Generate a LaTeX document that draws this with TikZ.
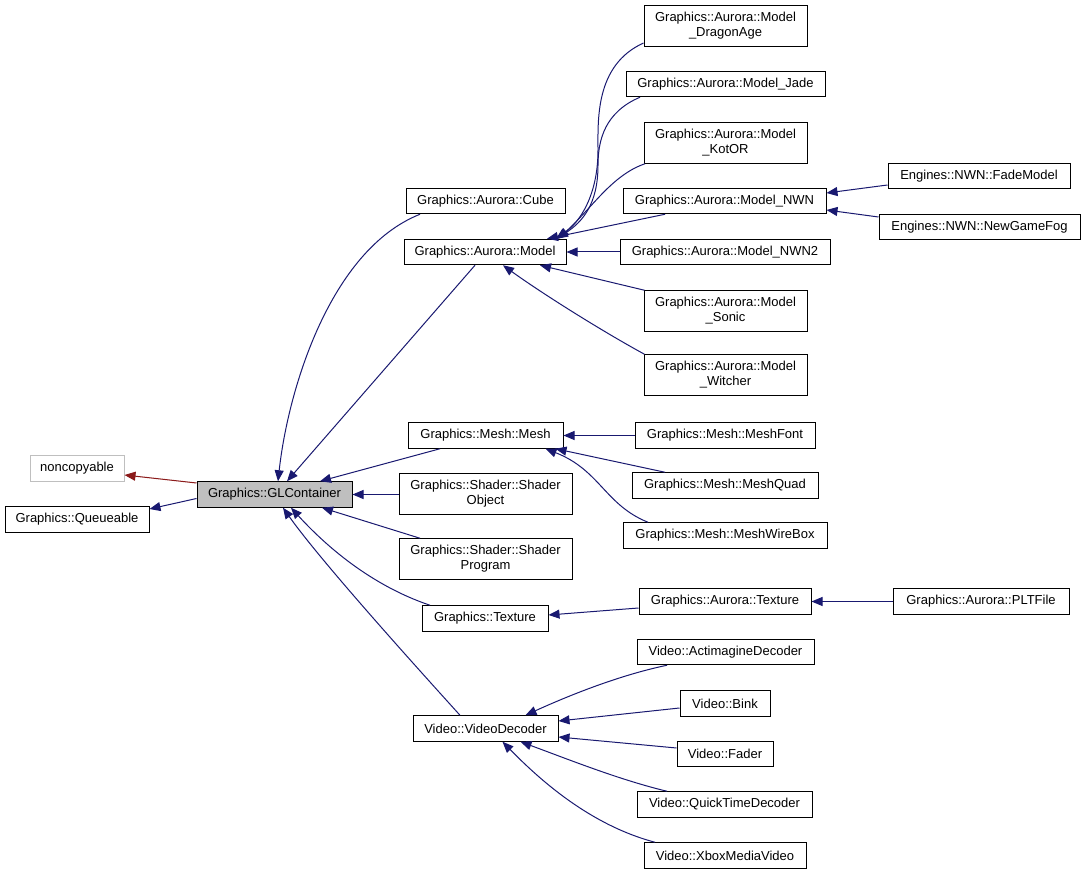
\documentclass[tikz,border=0pt]{standalone}
\usepackage{fontspec}
\setmainfont{Liberation Sans}
\usetikzlibrary{arrows.meta}
\definecolor{navy}{HTML}{191970}
\definecolor{dred}{HTML}{8B1A1A}
\definecolor{gfill}{HTML}{BFBFBF}
\begin{document}
\begin{tikzpicture}[x=1pt,y=-1pt,
  box/.style={draw=black, line width=1pt, inner sep=0pt, align=center, font=\fontsize{13}{15}\selectfont, minimum height=25.5pt},
  tall/.style={minimum height=40.5pt},
  arr/.style={draw=navy, line width=1pt, -{Triangle[length=11pt,width=9pt]}},
  redarr/.style={draw=dred, line width=1pt, -{Triangle[length=11pt,width=9pt]}}]
\useasboundingbox (0,0) rectangle (1087,874);
% nodes
\node[box, draw=gfill, minimum width=94pt] (nc) at (77,468.5) {noncopyable};
\node[box, fill=gfill, minimum width=155pt] (gl) at (274.5,494.5) {Graphics::GLContainer};
\node[box, minimum width=144pt] (q) at (77,519.5) {Graphics::Queueable};
\node[box, tall, minimum width=163pt] (da) at (725.5,26) {Graphics::Aurora::Model\\\_DragonAge};
\node[box, minimum width=199pt] (jade) at (725.5,84) {Graphics::Aurora::Model\_Jade};
\node[box, tall, minimum width=163pt] (kotor) at (725.5,143) {Graphics::Aurora::Model\\\_KotOR};
\node[box, minimum width=159pt] (cube) at (485.5,201) {Graphics::Aurora::Cube};
\node[box, minimum width=203pt] (nwn) at (724.5,201) {Graphics::Aurora::Model\_NWN};
\node[box, minimum width=182pt] (fade) at (979,176) {Engines::NWN::FadeModel};
\node[box, minimum width=201pt] (fog) at (979.5,227) {Engines::NWN::NewGameFog};
\node[box, minimum width=162pt] (model) at (485,252) {Graphics::Aurora::Model};
\node[box, minimum width=210pt] (nwn2) at (725,252) {Graphics::Aurora::Model\_NWN2};
\node[box, tall, minimum width=163pt] (sonic) at (725.5,311) {Graphics::Aurora::Model\\\_Sonic};
\node[box, tall, minimum width=163pt] (witcher) at (725.5,375) {Graphics::Aurora::Model\\\_Witcher};
\node[box, minimum width=155pt] (mesh) at (485.5,435.5) {Graphics::Mesh::Mesh};
\node[box, minimum width=180pt] (mf) at (725,435.5) {Graphics::Mesh::MeshFont};
\node[box, tall, minimum width=173pt] (so) at (485.5,494) {Graphics::Shader::Shader\\Object};
\node[box, minimum width=186pt] (mq) at (725,485.5) {Graphics::Mesh::MeshQuad};
\node[box, minimum width=204pt] (mwb) at (725,535.5) {Graphics::Mesh::MeshWireBox};
\node[box, tall, minimum width=173pt] (sp) at (485.5,559) {Graphics::Shader::Shader\\Program};
\node[box, minimum width=172pt] (atex) at (725,601.5) {Graphics::Aurora::Texture};
\node[box, minimum width=176pt] (plt) at (981,601.5) {Graphics::Aurora::PLTFile};
\node[box, minimum width=126pt] (tex) at (485,618.5) {Graphics::Texture};
\node[box, minimum width=177pt] (act) at (725.5,652) {Video::ActimagineDecoder};
\node[box, minimum width=90pt] (bink) at (725,703.5) {Video::Bink};
\node[box, minimum width=145pt] (vd) at (485.5,728.5) {Video::VideoDecoder};
\node[box, minimum width=96pt] (fader) at (725,754) {Video::Fader};
\node[box, minimum width=175pt] (qt) at (724.5,804.5) {Video::QuickTimeDecoder};
\node[box, minimum width=162pt] (xbox) at (725,855.5) {Video::XboxMediaVideo};
% edges to GLContainer's parents
\draw[redarr] ([yshift=11.5pt]gl.west) -- ([yshift=-6.5pt]nc.east);
\draw[arr] ([yshift=-4pt]gl.west) -- ([yshift=10.5pt]q.east);
% children of GLContainer
\draw[arr] ([xshift=-65.5pt]cube.south) .. controls (330,250) and (288,390) .. ([xshift=3.5pt]gl.north);
\draw[arr] ([xshift=-10pt]model.south) -- ([xshift=12.5pt]gl.north);
\draw[arr] ([xshift=-45.5pt]mesh.south) -- ([xshift=45.5pt]gl.north);
\draw[arr] (so.west |- gl.east) -- (gl.east);
\draw[arr] ([xshift=-65.5pt]sp.north) -- ([xshift=47.5pt]gl.south);
\draw[arr] ([xshift=-55pt]tex.north) .. controls (370,585) and (325,545) .. ([xshift=16.5pt]gl.south);
\draw[arr] ([xshift=-25.5pt]vd.north) .. controls (410,660) and (320,560) .. ([xshift=8.5pt]gl.south);
% children of Model
\draw[arr] ([yshift=-17pt]da.west) .. controls (595,65) and (598,120) .. (598,150) .. controls (598,195) and (580,222) .. ([xshift=71pt]model.north);
\draw[arr] ([xshift=-85.5pt]jade.south) .. controls (605,112) and (598,140) .. (598,165) .. controls (598,205) and (582,222) .. ([xshift=72pt]model.north);
\draw[arr] ([xshift=-80.5pt]kotor.south) .. controls (612,175) and (592,208) .. ([xshift=73pt]model.north);
\draw[arr] ([xshift=-59.5pt]nwn.south) -- ([xshift=62pt]model.north);
\draw[arr] (nwn2.west) -- (model.east);
\draw[arr] ([xshift=1pt]sonic.north west) -- ([xshift=55pt]model.south);
\draw[arr] ([xshift=1pt]witcher.north west) .. controls (600,330) and (540,292) .. ([xshift=18pt]model.south);
% Model_NWN children
\draw[arr] ([yshift=-9pt]fade.west) -- ([yshift=8pt]nwn.east);
\draw[arr] ([yshift=10pt]fog.west) -- ([yshift=-9pt]nwn.east);
% Mesh children
\draw[arr] (mf.west) -- (mesh.east);
\draw[arr] ([xshift=-60pt]mq.north) -- ([xshift=-8pt]mesh.south east);
\draw[arr] ([xshift=-77pt]mwb.north) .. controls (605,505) and (600,470) .. ([xshift=-18pt]mesh.south east);
% Texture
\draw[arr] ([yshift=-6.5pt]atex.west) -- ([yshift=3.5pt]tex.east);
\draw[arr] (plt.west) -- (atex.east);
% VideoDecoder children
\draw[arr] ([xshift=-58.5pt]act.south) .. controls (620,675) and (570,695) .. ([xshift=40pt]vd.north);
\draw[arr] ([yshift=-4.5pt]bink.west) -- ([yshift=7.5pt]vd.east);
\draw[arr] ([yshift=6pt]fader.west) -- ([yshift=-8.5pt]vd.east);
\draw[arr] ([xshift=-57.5pt]qt.north) .. controls (620,780) and (570,760) .. ([xshift=35pt]vd.south);
\draw[arr] ([xshift=-70pt]xbox.north) .. controls (590,825) and (540,780) .. ([xshift=17pt]vd.south);
\end{tikzpicture}
\end{document}
